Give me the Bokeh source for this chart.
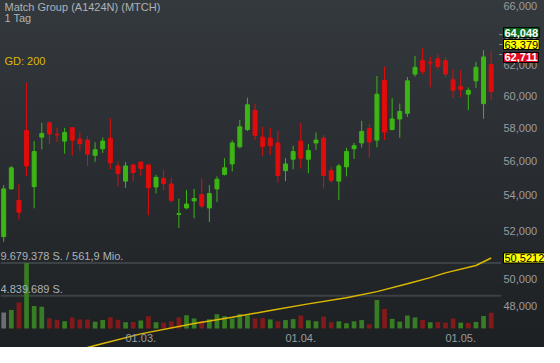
from bokeh.plotting import figure
from bokeh.models import (Range1d, FixedTicker, CustomJSTickFormatter, Label,
                          ColumnDataSource, LinearScale)
from bokeh.embed import file_html
from bokeh.resources import INLINE

# ---------------- data ----------------
chart_title = "Match Group (A1424N) (MTCH)"
chart_period = "1 Tag"
ma_label = "GD: 200"

date_ticks = [18, 39, 60]
date_labels = ["01.03.", "01.04.", "01.05."]

opens = [51.68, 54.37, 53.71, 57.85, 54.50, 57.44, 58.32, 57.61, 57.20, 58.02,
         57.32, 57.26, 56.34, 56.74, 57.38, 55.71, 54.82, 55.77, 55.94, 55.77,
         54.48, 54.98, 54.65, 52.92, 53.28, 53.68, 54.04, 53.28, 54.37, 55.21,
         55.83, 56.86, 57.91, 59.09, 57.44, 57.38, 57.09, 55.43, 56.11, 57.20,
         56.11, 57.09, 57.38, 55.43, 54.82, 55.66, 56.74, 57.09, 57.97, 57.26,
         61.00, 57.91, 58.56, 58.91, 61.42, 62.30, 62.19, 62.42, 62.30, 61.05,
         60.61, 60.12, 60.98, 59.52, 62.04]
highs = [54.59, 55.71, 54.63, 60.86, 57.20, 58.32, 58.42, 58.01, 58.01, 58.03,
         57.71, 57.50, 57.13, 57.42, 58.60, 55.98, 55.94, 55.84, 55.95, 55.78,
         55.19, 55.47, 55.02, 53.81, 54.30, 54.37, 54.97, 54.59, 55.10, 56.17,
         57.25, 58.50, 59.90, 59.50, 58.07, 58.01, 57.83, 56.17, 56.92, 58.32,
         57.03, 57.73, 57.57, 55.67, 55.83, 56.80, 57.09, 58.44, 58.26, 61.29,
         61.90, 59.88, 59.52, 61.23, 62.61, 63.12, 62.55, 62.74, 62.55, 61.73,
         61.67, 60.55, 62.23, 63.00, 62.93]
lows = [51.40, 54.33, 52.63, 55.13, 53.26, 56.70, 57.01, 57.15, 56.44, 56.32,
        56.61, 55.71, 55.96, 56.49, 55.53, 54.52, 54.43, 54.80, 55.13, 52.87,
        54.11, 54.30, 53.57, 52.17, 53.21, 52.70, 53.26, 52.49, 53.62, 55.15,
        55.39, 56.76, 57.81, 57.28, 56.32, 56.38, 54.74, 54.82, 55.51, 55.56,
        55.28, 56.68, 54.39, 54.72, 53.73, 55.10, 56.13, 56.80, 56.21, 56.82,
        57.28, 57.85, 57.40, 58.69, 61.25, 61.42, 60.57, 61.73, 61.17, 59.88,
        59.94, 59.11, 60.51, 58.57, 59.76]
closes = [54.37, 55.60, 53.03, 55.71, 56.57, 57.67, 57.63, 57.58, 57.73, 57.26,
          57.05, 56.41, 56.68, 57.20, 55.90, 55.26, 55.71, 55.32, 55.56, 54.44,
          55.04, 54.67, 53.71, 52.96, 53.50, 53.82, 53.39, 54.10, 54.93, 55.60,
          57.09, 58.08, 59.45, 57.55, 56.87, 56.93, 55.15, 55.83, 56.57, 56.17,
          56.63, 57.26, 55.15, 54.87, 55.71, 56.57, 56.92, 57.79, 57.15, 60.12,
          57.75, 58.56, 59.03, 60.98, 61.86, 61.61, 62.15, 61.92, 61.42, 60.37,
          60.43, 60.37, 61.86, 62.55, 60.30]
volumes = [2360000, 2730000, 3820000, 9679378, 3300000, 3210000, 1510000, 1270000,
           1040000, 1600000, 1320000, 1320000, 990000, 1230000, 1660000, 1270000,
           900000, 950000, 1180000, 1800000, 900000, 850000, 1040000, 1600000,
           1930000, 1460000, 1040000, 1370000, 2080000, 1800000, 1460000, 2120000,
           1930000, 1460000, 1510000, 1330000, 1050000, 1230000, 1370000, 1900000,
           1190000, 1050000, 1750000, 910000, 1050000, 760000, 1050000, 1230000,
           620000, 4200000, 2890000, 1420000, 990000, 1900000, 1610000, 1230000,
           910000, 950000, 850000, 1470000, 850000, 810000, 950000, 1840000, 2320000]
turnover_label = "561,9 Mio."

gd_idx = [11, 12, 18, 25, 30, 35, 40, 45, 49, 53, 56, 58, 62, 64]
gd_val = [45.94, 46.04, 46.61, 47.13, 47.44, 47.78, 48.12, 48.43, 48.75, 49.16,
          49.48, 49.73, 50.12, 50.5212]

price_ticks = [48, 52, 54, 56, 58, 60, 62, 64, 66]
shifted_tick = 50
quote_ask = 64.048
quote_mid = 63.379
quote_bid = 62.711

# ---------------- styling ----------------
FONT = "Liberation Sans"
TXT = "#aeb2b6"
AX = "#999da1"
UP = "#3cb515"
DN = "#e00c0c"
VUP = "#387c23"
VDN = "#801a1b"
VNEU = "#6b6e71"
GOLD = "#dcb900"
W, H = 544, 347
LABEL_X = 503          # left edge of the price labels (screen px)

n = len(closes)
xs = list(range(n))
body_top = [max(o, c) for o, c in zip(opens, closes)]
body_bot = [min(o, c) for o, c in zip(opens, closes)]
ccol = [UP if c >= o else DN for o, c in zip(opens, closes)]
vcol = [VNEU] + [VUP if closes[i] >= closes[i - 1] else VDN for i in range(1, n)]

src = ColumnDataSource(dict(x=xs, o=opens, h=highs, l=lows, c=closes,
                            top=body_top, bot=body_bot, col=ccol,
                            vol=volumes, vcol=vcol))

vmax = max(volumes)
x0, x1 = -0.42, n - 1 + 7.0
p = figure(width=W, height=H, output_backend="svg", toolbar_location=None,
           y_axis_type="log", y_axis_location="right",
           x_range=Range1d(x0, x1), y_range=Range1d(45.941, 66.412),
           min_border_left=0, min_border_top=0, min_border_right=0,
           min_border_bottom=0)
p.extra_y_ranges = {"vol": Range1d(-vmax * 20 / 68.4, vmax * 343 / 68.4)}
p.extra_y_scales = {"vol": LinearScale()}
p.background_fill_alpha = 0
p.border_fill_alpha = 0
p.outline_line_color = None
p.styles = {"background": "linear-gradient(180deg, #34393d 0%, #2a2e32 45%, #1d2023 100%)"}
p.xgrid.visible = False
p.ygrid.visible = False

ya = p.yaxis[0]
ya.ticker = FixedTicker(ticks=price_ticks)
ya.formatter = CustomJSTickFormatter(code="return tick.toFixed(3).replace('.', ',');")
xa = p.xaxis[0]
xa.ticker = FixedTicker(ticks=date_ticks)
xa.major_label_overrides = {t: l for t, l in zip(date_ticks, date_labels)}
for ax in (ya, xa):
    ax.axis_line_color = None
    ax.major_tick_line_color = None
    ax.minor_tick_line_color = None
    ax.major_tick_out = 0
    ax.major_tick_in = 0
    ax.minor_tick_out = 0
    ax.major_label_text_color = AX
    ax.major_label_text_font = FONT
    ax.major_label_text_font_size = "11px"
ya.major_label_standoff = LABEL_X - W
xa.major_label_standoff = -14

# volume guide lines and labels
guide_x1 = n - 1 + 1.3
for lvl in (vmax, vmax / 2):
    p.segment(x0=[x0], y0=[lvl], x1=[guide_x1], y1=[lvl], y_range_name="vol",
              line_color="#3c4145", line_width=2)

def de_int(v):
    return f"{int(round(v)):,}".replace(",", ".")

for lvl, txt in ((vmax, f"{de_int(vmax)} S. / {turnover_label}"),
                 (vmax / 2, f"{de_int(vmax / 2)} S.")):
    p.add_layout(Label(x=x0, y=lvl, y_range_name="vol", text=txt,
                       text_baseline="bottom", y_offset=1, text_color=TXT,
                       text_font=FONT, text_font_size="11px"))

# volume bars
p.vbar(x="x", width=0.62, top="vol", bottom=0, y_range_name="vol",
       fill_color="vcol", line_color=None, source=src)

# moving average
p.line(gd_idx, gd_val, line_color=GOLD, line_width=1.5)

# candles
p.segment(x0="x", y0="l", x1="x", y1="h", line_color="col", line_width=1, source=src)
p.vbar(x="x", width=0.52, top="top", bottom="bot", fill_color="col",
       line_color="col", line_width=1, source=src)

# texts
p.add_layout(Label(x=x0, y=66.412, text=chart_title + "\n" + chart_period,
                   text_baseline="top", x_offset=4, y_offset=0, text_color=TXT,
                   text_font=FONT, text_font_size="11px", text_line_height=0.95))
p.add_layout(Label(x=x0, y=66.412, text=ma_label, text_baseline="top",
                   x_offset=4, y_offset=-54, text_color=GOLD,
                   text_font=FONT, text_font_size="11px"))
p.add_layout(Label(x=LABEL_X, x_units="screen", y=shifted_tick,
                   text=f"{shifted_tick:.3f}".replace(".", ","),
                   text_baseline="middle", y_offset=-11,
                   text_color=AX, text_font=FONT, text_font_size="11px"))

# quote markers
quotes = [quote_ask, quote_mid, quote_bid]
p.segment(x0=[n - 1 + 1.05] * 3, y0=quotes, x1=[n - 1 + 1.45] * 3, y1=quotes,
          line_color="#8a8e92", line_width=1)

def badge(val, txt, bg, fg, bold, dy):
    p.add_layout(Label(x=LABEL_X, x_units="screen", y=val, text=txt,
                       text_baseline="middle", y_offset=dy, text_color=fg,
                       text_font=FONT, text_font_size="11px",
                       text_font_style="bold" if bold else "normal",
                       background_fill_color=bg, border_line_color="black",
                       border_line_width=1, padding=1))

badge(gd_val[-1], f"{gd_val[-1]:.4f}".replace(".", ","), "#ffff00", "black", False, 0)
badge(quote_ask, f"{quote_ask:.3f}".replace(".", ","), "#0d6e1c", "white", True, 2)
badge(quote_mid, f"{quote_mid:.3f}".replace(".", ","), "#ffff00", "black", False, 0)
badge(quote_bid, f"{quote_bid:.3f}".replace(".", ","), "#e3081e", "white", True, -3)

open("out.html", "w").write(file_html(p, INLINE))
